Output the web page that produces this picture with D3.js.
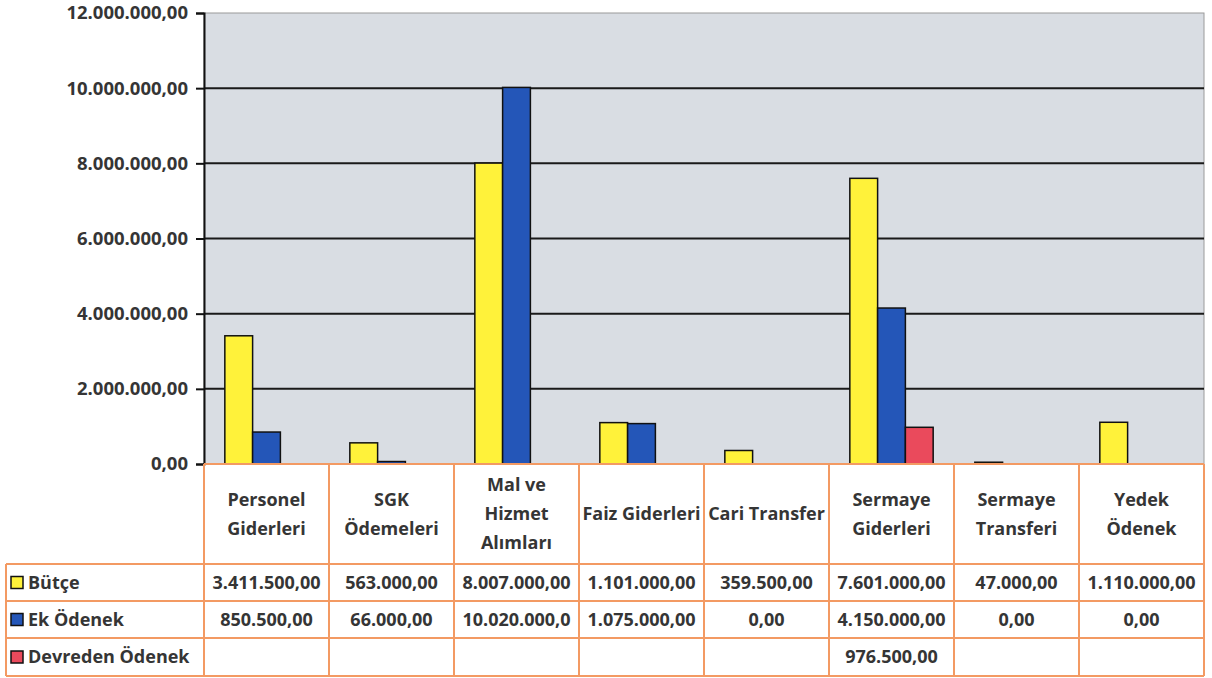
<!DOCTYPE html>
<html lang="tr">
<head>
  <meta charset="UTF-8">
  <title>Bütçe / Ek Ödenek / Devreden Ödenek</title>
  <script src="https://d3js.org/d3.v7.min.js"></script>
  <style>
    body, html {
      margin: 0;
      padding: 0;
      background: #ffffff;
      font-family: 'Open Sans', 'Liberation Sans', sans-serif;
    }
    svg { display: block; }
    .txt { fill: #353535; font-weight: 700; }
  </style>
</head>
<body>
  <svg width="1212" height="678"></svg>

  <script>
    // categories (header lines as shown in the data table)
    const categories = [
      "Personel Giderleri", "SGK Ödemeleri", "Mal ve Hizmet Alımları", "Faiz Giderleri",
      "Cari Transfer", "Sermaye Giderleri", "Sermaye Transferi", "Yedek Ödenek"
    ];
    const headerLines = [
      ["Personel", "Giderleri"], ["SGK", "Ödemeleri"], ["Mal ve", "Hizmet", "Alımları"],
      ["Faiz Giderleri"], ["Cari Transfer"], ["Sermaye", "Giderleri"],
      ["Sermaye", "Transferi"], ["Yedek", "Ödenek"]
    ];

    const seriesNames  = ["Bütçe", "Ek Ödenek", "Devreden Ödenek"];
    const seriesColors = ["#fff23a", "#2456b8", "#ea4a5c"];

    const butce    = [3411500, 563000, 8007000, 1101000, 359500, 7601000, 47000, 1110000];
    const ekOdenek = [850500, 66000, 10020000, 1075000, 0, 4150000, 0, 0];
    const devreden = [null, null, null, null, null, 976500, null, null];

    const yTicks = [0, 2000000, 4000000, 6000000, 8000000, 10000000, 12000000];

    const seriesValues = [butce, ekOdenek, devreden];

    // layout
    const plotL = 204, plotR = 1204, plotT = 13, plotB = 464;
    const tableL = 6;
    const rowEdges = [564, 601, 638, 676];
    const orange = "#f39a63";
    const fs = "18px";

    const tr = d3.formatLocale({decimal: ",", thousands: ".", grouping: [3], currency: ["", ""]});
    const fmt = tr.format(",.2f");

    const svg = d3.select("svg");

    const x0 = d3.scaleBand().domain(categories).range([plotL, plotR]).padding(0);
    const x1 = d3.scaleBand().domain(seriesNames).range([0, x0.bandwidth()])
                 .paddingInner(0).paddingOuter(0.75);
    const y = d3.scaleLinear().domain([0, 12000000]).range([plotB, plotT]);

    // plot background
    svg.append("rect")
       .attr("x", plotL).attr("y", plotT)
       .attr("width", plotR - plotL).attr("height", plotB - plotT)
       .attr("fill", "#d9dde3")
       .attr("stroke", "#9a9a9a").attr("stroke-width", 1);

    // gridlines
    svg.append("g").selectAll("line")
       .data(yTicks.filter(d => d > 0 && d < 12000000))
       .enter().append("line")
         .attr("x1", plotL).attr("x2", plotR)
         .attr("y1", d => y(d)).attr("y2", d => y(d))
         .attr("stroke", "#1a1a1a").attr("stroke-width", 2);

    // bars
    const bars = [];
    seriesValues.forEach((vals, si) => {
      vals.forEach((v, ci) => {
        if (v) bars.push({cat: categories[ci], s: seriesNames[si], v: v, c: seriesColors[si]});
      });
    });

    svg.append("g").selectAll("rect")
       .data(bars)
       .enter().append("rect")
         .attr("x", d => x0(d.cat) + x1(d.s))
         .attr("y", d => y(d.v))
         .attr("width", x1.bandwidth())
         .attr("height", d => plotB - y(d.v))
         .attr("fill", d => d.c)
         .attr("stroke", "#111").attr("stroke-width", 1.5);

    // y axis
    const yAxis = svg.append("g")
       .attr("transform", `translate(${plotL},0)`)
       .call(d3.axisLeft(y).tickValues(yTicks).tickSize(8).tickPadding(8).tickFormat(fmt));
    yAxis.select(".domain").attr("stroke", "#111").attr("stroke-width", 2);
    yAxis.selectAll(".tick line").attr("stroke", "#111").attr("stroke-width", 2);
    yAxis.selectAll(".tick text")
       .attr("class", "txt")
       .style("font-family", "'Open Sans', sans-serif")
       .style("font-size", "18.5px");

    // data table
    const table = svg.append("g");
    const lineStyle = sel => sel.attr("stroke", orange).attr("stroke-width", 2);

    // horizontal lines
    table.append("line").attr("x1", plotL).attr("x2", plotR)
         .attr("y1", plotB).attr("y2", plotB).call(lineStyle);
    rowEdges.forEach(ry => {
      table.append("line").attr("x1", tableL).attr("x2", plotR)
           .attr("y1", ry).attr("y2", ry).call(lineStyle);
    });
    // vertical lines
    table.append("line").attr("x1", tableL).attr("x2", tableL)
         .attr("y1", rowEdges[0]).attr("y2", rowEdges[3]).call(lineStyle);
    categories.forEach(c => {
      table.append("line").attr("x1", x0(c)).attr("x2", x0(c))
           .attr("y1", plotB).attr("y2", rowEdges[3]).call(lineStyle);
    });
    table.append("line").attr("x1", plotR).attr("x2", plotR)
         .attr("y1", plotB).attr("y2", rowEdges[3]).call(lineStyle);

    // header labels
    const headCenter = (plotB + rowEdges[0]) / 2, lineH = 29;
    categories.forEach((c, i) => {
      const lines = headerLines[i];
      const t = table.append("text")
        .attr("class", "txt")
        .attr("text-anchor", "middle")
        .style("font-size", fs);
      lines.forEach((ln, k) => {
        t.append("tspan")
         .attr("x", x0(c) + x0.bandwidth() / 2)
         .attr("y", headCenter + (k - (lines.length - 1) / 2) * lineH)
         .attr("dy", "0.35em")
         .text(ln);
      });
    });

    // series rows
    seriesNames.forEach((s, si) => {
      const cy = (rowEdges[si] + rowEdges[si + 1]) / 2;
      table.append("rect")
           .attr("x", 11).attr("y", cy - 6)
           .attr("width", 12).attr("height", 12)
           .attr("fill", seriesColors[si])
           .attr("stroke", "#111").attr("stroke-width", 1.5);
      table.append("text")
           .attr("class", "txt")
           .attr("x", 28).attr("y", cy).attr("dy", "0.35em")
           .style("font-size", fs)
           .text(s);

      seriesValues[si].forEach((v, ci) => {
        if (v === null) return;
        const cell = table.append("text")
           .attr("class", "txt")
           .attr("x", x0(categories[ci]) + x0.bandwidth() / 2)
           .attr("y", cy).attr("dy", "0.35em")
           .attr("text-anchor", "middle")
           .style("font-size", fs)
           .text(fmt(v));
        // clip text that does not fit the cell (with margins), like the spreadsheet does
        let str = fmt(v);
        while (cell.node().getComputedTextLength() > x0.bandwidth() - 10 && str.length > 1) {
          str = str.slice(0, -1);
          cell.text(str);
        }
      });
    });
  </script>
</body>
</html>
